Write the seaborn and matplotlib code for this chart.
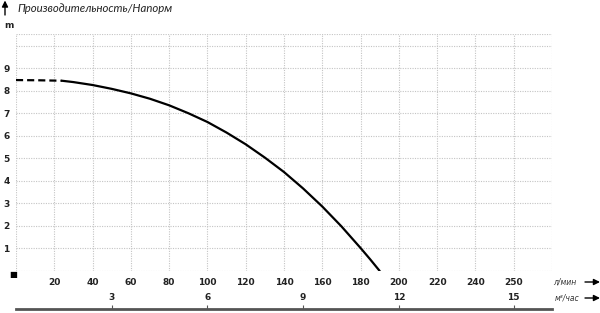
import matplotlib
matplotlib.use("Agg")
import matplotlib.pyplot as plt
import seaborn as sns
import pandas as pd

# ---- data ----
flow_dashed = [0, 12, 24]                 # l/min
head_dashed = [8.47, 8.46, 8.44]          # m
flow_solid = [24, 30, 40, 50, 60, 70, 80, 90, 100, 110, 120, 130, 140, 150, 160, 170, 180, 185, 190]
head_solid = [8.44, 8.38, 8.25, 8.08, 7.88, 7.64, 7.35, 7.00, 6.61, 6.14, 5.62, 5.03, 4.39, 3.66,
              2.86, 1.98, 1.02, 0.52, 0.0]

x_tick_pos = [20, 40, 60, 80, 100, 120, 140, 160, 180, 200, 220, 240, 260]
x_tick_lab = ["20", "40", "60", "80", "100", "120", "140", "160", "180", "200", "220", "240", "250"]
m3_tick_pos = [50, 100, 150, 200, 260]
m3_tick_lab = ["3", "6", "9", "12", "15"]
y_tick_pos = [1, 2, 3, 4, 5, 6, 7, 8, 9]
y_tick_lab = ["1", "2", "3", "4", "5", "6", "7", "8", "9"]

title = "Производительность/Напорм"

sns.set_theme(style="white")
plt.rcParams["font.family"] = ["DejaVu Sans"]

W, H = 600, 313
fig = plt.figure(figsize=(W / 100, H / 100), dpi=100)

x0, x1 = 16, 552
y0, y1 = 271, 34.3
ax = fig.add_axes([x0 / W, 1 - y0 / H, (x1 - x0) / W, (y0 - y1) / H])
ax.set_xlim(0, 280)
ax.set_ylim(0, 10.5)

for s in ax.spines.values():
    s.set_visible(False)

grid_kw = dict(color="#c4c4c4", lw=0.8, ls=(0, (1, 1.2)), zorder=0)
for gx in range(0, 281, 20):
    ax.axvline(gx, **grid_kw)
for gy in list(range(0, 11)) + [10.5]:
    ax.axhline(gy, **grid_kw)

df_d = pd.DataFrame({"flow": flow_dashed, "head": head_dashed})
df_s = pd.DataFrame({"flow": flow_solid, "head": head_solid})
sns.lineplot(data=df_d, x="flow", y="head", ax=ax, color="black", lw=1.6,
             linestyle=(0, (3.2, 1.8)), sort=False, estimator=None)
sns.lineplot(data=df_s, x="flow", y="head", ax=ax, color="black", lw=1.6,
             sort=False, estimator=None)
ax.set_xlabel("")
ax.set_ylabel("")

ax.set_xticks(x_tick_pos)
ax.set_xticklabels(x_tick_lab, fontsize=6.5, fontweight="bold", color="#222")
ax.set_yticks(y_tick_pos)
ax.set_yticklabels(y_tick_lab, fontsize=6.5, fontweight="bold", color="#222")
ax.tick_params(axis="x", length=0, pad=5)
ax.tick_params(axis="y", length=0, pad=9)
for t in ax.get_yticklabels():
    t.set_horizontalalignment("left")

# m3/h axis
yb = 309
ax2 = fig.add_axes([x0 / W, 1 - yb / H, (x1 - x0) / W, 0.0001])
ax2.set_xlim(0, 280)
ax2.patch.set_visible(False)
for k in ["left", "right", "bottom"]:
    ax2.spines[k].set_visible(False)
ax2.spines["top"].set_color("#555")
ax2.spines["top"].set_linewidth(2)
ax2.set_yticks([])
ax2.xaxis.tick_top()
ax2.set_xticks(m3_tick_pos)
ax2.set_xticklabels(m3_tick_lab, fontsize=6.5, fontweight="bold", color="#222")
ax2.tick_params(axis="x", direction="out", length=3, width=0.8, color="#555", pad=2)

# decorations
fig.text(4 / W, 1 - 25 / H, "m", fontsize=6.5, fontweight="bold", ha="left", va="center", color="#222")
fig.text(13 / W, 1 - 274 / H, "■", fontsize=6, ha="center", va="center", color="black")
fig.text(17 / W, 1 - 9 / H, title, fontsize=8.2, style="italic", ha="left", va="center",
         color="#222", family="Lato")
ax.annotate("", xy=(5 / W, 1 - 0.5 / H), xytext=(5 / W, 1 - 15 / H), xycoords="figure fraction",
            arrowprops=dict(arrowstyle="-|>", color="black", lw=1.0, mutation_scale=9,
                            shrinkA=0, shrinkB=0))
fig.text(553 / W, 1 - 282 / H, "л/мин", fontsize=5.5, style="italic", ha="left", va="center", color="#333")
fig.text(555 / W, 1 - 298 / H, "м³/час", fontsize=5.5, style="italic", ha="left", va="center", color="#333")
for yy in (282, 298):
    ax.annotate("", xy=(600 / W, 1 - yy / H), xytext=(585 / W, 1 - yy / H), xycoords="figure fraction",
                arrowprops=dict(arrowstyle="-|>", color="black", lw=1.0, mutation_scale=9,
                                shrinkA=0, shrinkB=0))

fig.savefig("out.png", dpi=100)
